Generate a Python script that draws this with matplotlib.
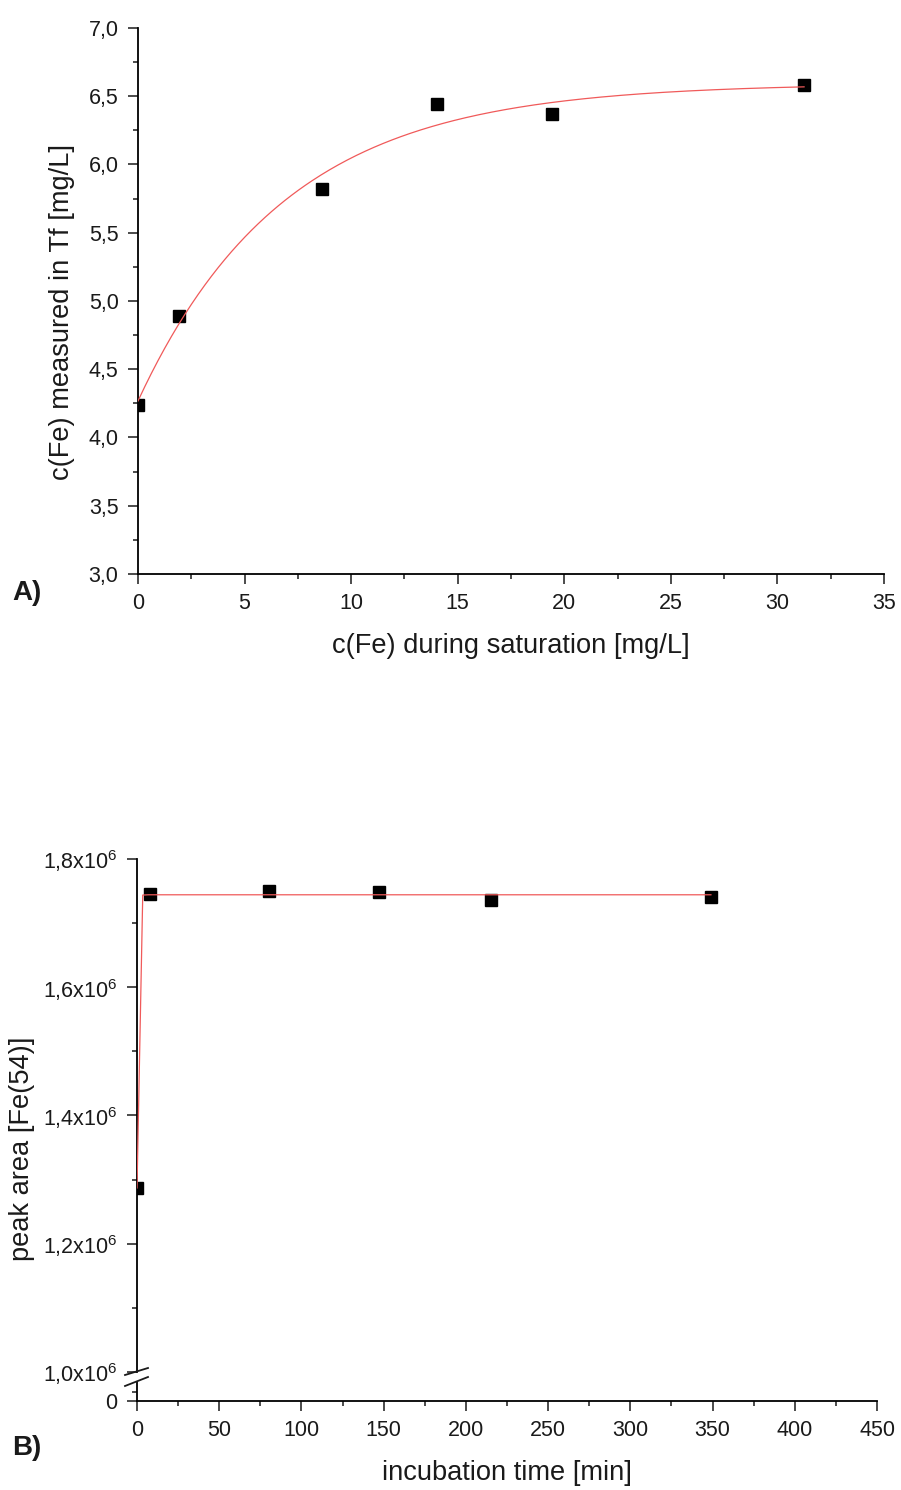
import numpy as np
import matplotlib
matplotlib.use("Agg")
import matplotlib.pyplot as plt
from matplotlib.lines import Line2D
from matplotlib.ticker import MultipleLocator, FixedLocator

plt.rcParams['font.family'] = ['Liberation Sans', 'DejaVu Sans']
plt.rcParams['mathtext.fontset'] = 'custom'
plt.rcParams['mathtext.rm'] = 'Liberation Sans'
plt.rcParams['text.color'] = '#1a1a1a'
plt.rcParams['xtick.color'] = '#1a1a1a'
plt.rcParams['ytick.color'] = '#1a1a1a'

# ---------------- data, panel A
fe_sat = [0.0, 1.92, 8.63, 14.03, 19.43, 31.25]
fe_tf = [4.24, 4.89, 5.82, 6.44, 6.37, 6.58]
a_xticks = [0, 5, 10, 15, 20, 25, 30, 35]
a_yticks = [3.0, 3.5, 4.0, 4.5, 5.0, 5.5, 6.0, 6.5, 7.0]

# ---------------- data, panel B
inc_time = [0, 8, 80, 147, 215, 349]
peak_area = [1.287e6, 1.745e6, 1.750e6, 1.749e6, 1.736e6, 1.741e6]
b_xticks = [0, 50, 100, 150, 200, 250, 300, 350, 400, 450]
b_yticks = [1.0e6, 1.2e6, 1.4e6, 1.6e6, 1.8e6]
b_tau = 0.5  # time constant of the fitted rise [min]

TICK_FS = 15.5
LABEL_FS = 19.6
RED = '#f05a5a'

W, H = 901, 1490
fig = plt.figure(figsize=(W / 100, H / 100), dpi=100)


def frac(x0, y0, x1, y1):
    # pixel box -> figure fraction [left, bottom, width, height]
    return [x0 / W, 1 - y1 / H, (x1 - x0) / W, (y1 - y0) / H]


def style(ax, left=True, bottom=True):
    for s in ['top', 'right']:
        ax.spines[s].set_visible(False)
    ax.spines['left'].set_visible(left)
    ax.spines['bottom'].set_visible(bottom)
    for s in ['left', 'bottom']:
        ax.spines[s].set_linewidth(1.3)
    ax.tick_params(which='major', direction='out', length=7, width=1.1,
                   labelsize=TICK_FS, pad=7)
    ax.tick_params(which='minor', direction='out', length=3.8, width=1.1)


def exp_fit(x, y):
    # y = y0 + A*(1 - exp(-x/t)), simple grid over t
    x = np.asarray(x)
    y = np.asarray(y)
    best = None
    for t in np.linspace(1, 20, 400):
        M = np.column_stack([np.ones_like(x), 1 - np.exp(-x / t)])
        coef, res, _, _ = np.linalg.lstsq(M, y, rcond=None)
        err = np.sum((M @ coef - y) ** 2)
        if best is None or err < best[0]:
            best = (err, coef[0], coef[1], t)
    return best[1:]


# ================= panel A
axA = fig.add_axes(frac(138, 28, 884, 574))
style(axA)
axA.set_xlim(0, 35)
axA.set_ylim(3.0, 7.0)
axA.xaxis.set_major_locator(FixedLocator(a_xticks))
axA.xaxis.set_minor_locator(MultipleLocator(2.5))
axA.yaxis.set_major_locator(FixedLocator(a_yticks))
axA.yaxis.set_minor_locator(MultipleLocator(0.25))
axA.set_xticklabels([str(v) for v in a_xticks])
axA.set_yticklabels([('%.1f' % v).replace('.', ',') for v in a_yticks])

y0, A, t = exp_fit(fe_sat, fe_tf)
xs = np.linspace(min(fe_sat), max(fe_sat), 300)
axA.plot(fe_sat, fe_tf, 's', color='black', ms=8.7, zorder=3)
axA.plot(xs, y0 + A * (1 - np.exp(-xs / t)), color=RED, lw=0.9, zorder=4)

fig.text(511 / W, 1 - 646 / H, 'c(Fe) during saturation [mg/L]',
         ha='center', va='center', fontsize=LABEL_FS)
fig.text(62 / W, 1 - 312 / H, 'c(Fe) measured in Tf [mg/L]',
         ha='center', va='center', rotation=90, fontsize=LABEL_FS)
fig.text(12 / W, 1 - 593 / H, 'A)', ha='left', va='center',
         fontsize=20, fontweight='bold')

# ================= panel B (broken y axis)
axB = fig.add_axes(frac(137, 859, 877, 1372))
style(axB, bottom=False)
axB.set_xlim(0, 450)
axB.set_ylim(1.0e6, 1.8e6)
axB.tick_params(axis='x', which='both', bottom=False, labelbottom=False)
axB.yaxis.set_major_locator(FixedLocator(b_yticks))
axB.yaxis.set_minor_locator(MultipleLocator(0.1e6))
axB.set_yticklabels([r'%s$\mathregular{x10^{6}}$' % ('%.1f' % (v / 1e6)).replace('.', ',')
                     for v in b_yticks])

axB0 = fig.add_axes(frac(137, 1382, 877, 1401))
style(axB0)
axB0.set_xlim(0, 450)
axB0.set_ylim(0, 1)
axB0.yaxis.set_major_locator(FixedLocator([0]))
axB0.yaxis.set_minor_locator(FixedLocator([0.5]))
axB0.set_yticklabels(['0'])
axB0.xaxis.set_major_locator(FixedLocator(b_xticks))
axB0.xaxis.set_minor_locator(MultipleLocator(25))
axB0.set_xticklabels([str(v) for v in b_xticks])
axB0.patch.set_alpha(0)

plateau = np.mean(peak_area[1:])
start = peak_area[0]
# fit curve evaluated on a coarse grid (100 steps), as the fitting program does
xb = np.linspace(0, max(inc_time), 101)
axB.plot(inc_time, peak_area, 's', color='black', ms=8.7, zorder=3)
axB.plot(xb, start + (plateau - start) * (1 - np.exp(-xb / b_tau)),
         color=RED, lw=0.9, zorder=4)

# break marks on the y axis
for ya, yb in [(1375, 1368), (1386, 1377)]:
    fig.add_artist(Line2D([125 / W, 148 / W], [1 - ya / H, 1 - yb / H],
                          color='#1a1a1a', lw=1.3))

fig.text(507 / W, 1 - 1473 / H, 'incubation time [min]',
         ha='center', va='center', fontsize=LABEL_FS)
fig.text(22 / W, 1 - 1149 / H, 'peak area [Fe(54)]',
         ha='center', va='center', rotation=90, fontsize=LABEL_FS)
fig.text(12 / W, 1 - 1448 / H, 'B)', ha='left', va='center',
         fontsize=20, fontweight='bold')

fig.savefig('out.png', dpi=100)
